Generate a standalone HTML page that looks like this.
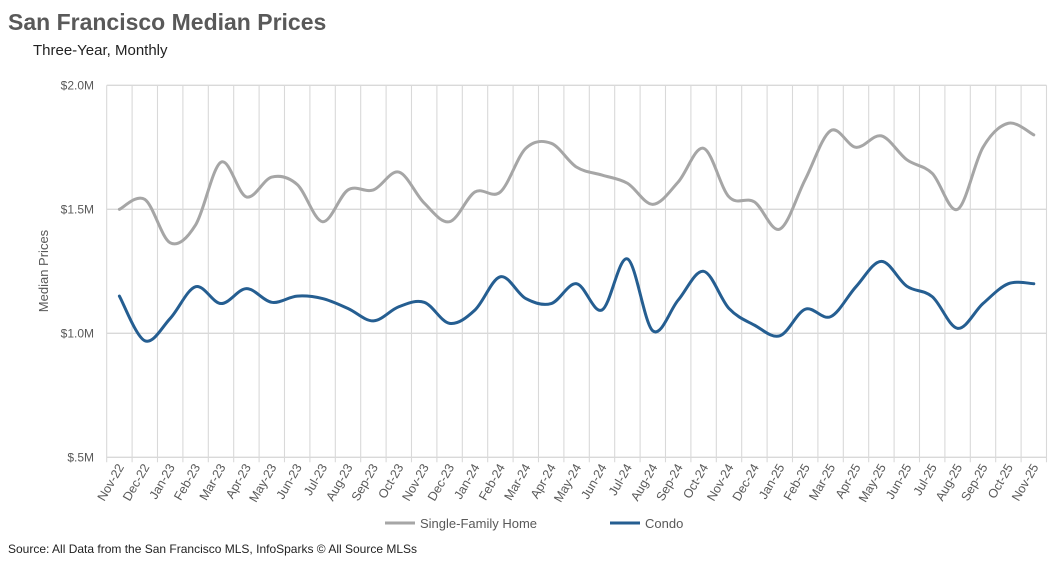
<!DOCTYPE html>
<html><head><meta charset="utf-8">
<style>
body{margin:0;background:#fff;font-family:"Liberation Sans",sans-serif;}
svg{display:block}
</style></head>
<body>
<svg id="chart" width="1064" height="566">
<text x="8" y="30" font-size="23" font-weight="bold" fill="#595959">San Francisco Median Prices</text>
<text x="33" y="55" font-size="15" fill="#222">Three-Year, Monthly</text>
<text transform="translate(48,271) rotate(-90)" text-anchor="middle" font-size="13" fill="#595959">Median Prices</text>
<g id="grid"></g><g id="yticks"></g><g id="xticks"></g><g id="lines"></g>
<line x1="385" y1="523" x2="415" y2="523" stroke="#A6A6A6" stroke-width="3"/>
<text x="420" y="528" font-size="13" fill="#595959">Single-Family Home</text>
<line x1="610" y1="523" x2="640" y2="523" stroke="#255E91" stroke-width="3"/>
<text x="645" y="528" font-size="13" fill="#595959">Condo</text>
<text x="8" y="553" font-size="12" fill="#222">Source: All Data from the San Francisco MLS, InfoSparks © All Source MLSs</text>
</svg>
<script>
const months=["Nov-22","Dec-22","Jan-23","Feb-23","Mar-23","Apr-23","May-23","Jun-23","Jul-23","Aug-23","Sep-23","Oct-23","Nov-23","Dec-23","Jan-24","Feb-24","Mar-24","Apr-24","May-24","Jun-24","Jul-24","Aug-24","Sep-24","Oct-24","Nov-24","Dec-24","Jan-25","Feb-25","Mar-25","Apr-25","May-25","Jun-25","Jul-25","Aug-25","Sep-25","Oct-25","Nov-25"];
const singleFamily=[1.50,1.54,1.365,1.437,1.69,1.55,1.63,1.60,1.45,1.578,1.578,1.65,1.525,1.45,1.57,1.57,1.746,1.766,1.67,1.638,1.605,1.52,1.61,1.746,1.55,1.53,1.42,1.62,1.817,1.75,1.796,1.70,1.645,1.50,1.75,1.847,1.80];
const condo=[1.15,0.97,1.06,1.188,1.12,1.18,1.125,1.15,1.14,1.10,1.05,1.107,1.125,1.04,1.094,1.228,1.14,1.12,1.20,1.094,1.30,1.01,1.134,1.25,1.10,1.033,0.99,1.097,1.067,1.188,1.29,1.19,1.148,1.02,1.12,1.20,1.20];
const yTicks=[0.5,1.0,1.5,2.0];
const yTickLabels=["$.5M","$1.0M","$1.5M","$2.0M"];
const NS="http://www.w3.org/2000/svg";
const L=106.7,R=1046.5,T=85.3,B=457.3;
const band=(R-L)/months.length;
const xs=i=>L+band*(i+0.5);
const ys=v=>B-(v-0.5)/1.5*(B-T);
function mk(tag,attrs,parent){const e=document.createElementNS(NS,tag);for(const k in attrs)e.setAttribute(k,attrs[k]);parent.appendChild(e);return e;}
const grid=document.getElementById('grid'),yt=document.getElementById('yticks'),xt=document.getElementById('xticks'),lines=document.getElementById('lines');
yTicks.forEach((v,i)=>{
 const g=mk('line',{x1:L,x2:R,y1:ys(v),y2:ys(v),stroke:'#D9D9D9','stroke-width':1.3},grid);
 
 
 const t=mk('text',{x:94,y:ys(v)+4,'text-anchor':'end','font-size':12,fill:'#595959'},yt);
 t.textContent=yTickLabels[i];
 
 
});
for(let i=0;i<=months.length;i++){
 const x=L+band*i;
 const g=mk('line',{x1:x,x2:x,y1:T,y2:B+5,stroke:'#D9D9D9','stroke-width':1.1},grid);
 
 
}
months.forEach((m,i)=>{
 const x=xs(i)+5,y=467;
 const t=mk('text',{x:x,y:y,'text-anchor':'end','font-size':12.5,fill:'#595959',transform:`rotate(-60 ${x} ${y})`},xt);
 t.textContent=m;
 
 
});
function path(vals){
 const p=vals.map((v,i)=>[xs(i),ys(v)]);
 let d=`M${p[0][0]},${p[0][1]}`;
 for(let i=0;i<p.length-1;i++){
  const p0=p[i-1]||p[i],p1=p[i],p2=p[i+1],p3=p[i+2]||p[i+1];
  const c1=[p1[0]+(p2[0]-p0[0])/6,p1[1]+(p2[1]-p0[1])/6];
  const c2=[p2[0]-(p3[0]-p1[0])/6,p2[1]-(p3[1]-p1[1])/6];
  d+=`C${c1[0]},${c1[1]} ${c2[0]},${c2[1]} ${p2[0]},${p2[1]}`;
 }
 return d;
}
const s1=mk('path',{d:path(singleFamily),fill:'none',stroke:'#A6A6A6','stroke-width':3,'stroke-linecap':'round'},lines);


const s2=mk('path',{d:path(condo),fill:'none',stroke:'#255E91','stroke-width':3,'stroke-linecap':'round'},lines);


</script>
</body></html>
